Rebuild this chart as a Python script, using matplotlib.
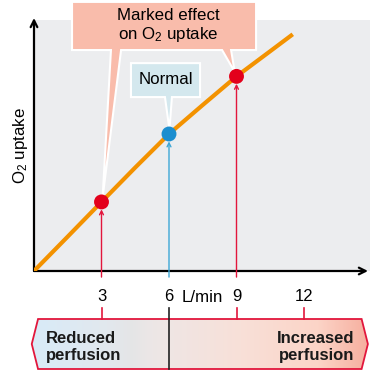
"""
O2 uptake vs. perfusion (cardiac output) with reduced / increased perfusion banner.
"""
import matplotlib
matplotlib.use("Agg")
import matplotlib.pyplot as plt
import numpy as np
from matplotlib.colors import LinearSegmentedColormap
from matplotlib.patches import Polygon

plt.rcParams["font.family"] = ["Liberation Sans", "DejaVu Sans"]
plt.rcParams["mathtext.fontset"] = "custom"
plt.rcParams["mathtext.rm"] = "Liberation Sans"
plt.rcParams["mathtext.default"] = "regular"

# curve (flow in L/min, uptake in arbitrary units)
flow = [0, 1.5, 3, 4.5, 6, 7.5, 9, 10.5, 11.5]
uptake = [0, 1.53, 3.07, 4.6, 6.09, 7.38, 8.65, 9.77, 10.52]

# highlighted operating points
point_flow = [3, 6, 9]
point_uptake = [3.07, 6.09, 8.65]
point_colors = ["#e3001b", "#1b8ecf", "#e3001b"]
line_colors = ["#e2163c", "#3ea7d6", "#e2163c"]

tick_values = [3, 6, 9, 12]
tick_labels = ["3", "6", "9", "12"]

ORANGE = "#f39200"
SALMON = "#f9bcab"
PALE_BLUE = "#d4e8ee"
RED = "#e2163c"

W, H = 375, 374
PX = 22.5  # pixels per data unit
X0, Y0 = 34, 271  # origin in pixels (from top-left)


def main():
    fig = plt.figure(figsize=(W / 100, H / 100), dpi=100)
    ax = fig.add_axes([X0 / W, (H - Y0) / H, 336 / W, 251 / H])
    ax.set_xlim(0, 336 / PX)
    ax.set_ylim(0, 251 / PX)
    ax.set_facecolor("#ecedef")
    for s in ax.spines.values():
        s.set_visible(False)
    ax.set_yticks([])
    ax.set_xticks(tick_values)
    ax.set_xticklabels(tick_labels, fontsize=12)
    ax.tick_params(axis="x", length=0, pad=13)

    # axis arrows
    ax.annotate("", xy=(334 / PX, 0), xytext=(0, 0), annotation_clip=False,
                arrowprops=dict(arrowstyle="->", color="black", lw=1.6,
                                shrinkA=0, shrinkB=0, mutation_scale=12))
    ax.annotate("", xy=(0, 253 / PX), xytext=(0, 0), annotation_clip=False,
                arrowprops=dict(arrowstyle="->", color="black", lw=1.6,
                                shrinkA=0, shrinkB=0, mutation_scale=12))

    ax.plot(flow, uptake, color=ORANGE, lw=3.0, solid_capstyle="butt", zorder=3)

    # vertical arrows from the axis up to each point
    for x, y, c in zip(point_flow, point_uptake, line_colors):
        ax.annotate("", xy=(x, y - 0.33), xytext=(x, -0.27), annotation_clip=False,
                    arrowprops=dict(arrowstyle="->", color=c, lw=1.0,
                                    shrinkA=0, shrinkB=0, mutation_scale=7),
                    zorder=4)
    ax.scatter(point_flow, point_uptake, s=115, c=point_colors, zorder=6,
               edgecolors="none")

    # callout: marked effect
    top, bot = 11.96, 9.82
    verts = [(1.69, top), (9.87, top), (9.87, bot), (8.76, bot),
             (point_flow[2] - 0.08, point_uptake[2] + 0.2), (8.36, bot),
             (3.87, bot), (point_flow[0] + 0.05, point_uptake[0] + 0.2),
             (3.42, bot), (1.69, bot)]
    ax.add_patch(Polygon(verts, closed=True, facecolor=SALMON, edgecolor="white",
                         lw=1.5, clip_on=False, zorder=5))
    ax.text(5.98, 10.88, "Marked effect\non O$_2$ uptake", ha="center", va="center",
            fontsize=12.2, linespacing=1.1, zorder=7)

    # callout: normal
    top, bot = 9.24, 7.73
    verts = [(4.31, top), (7.38, top), (7.38, bot), (6.13, bot),
             (point_flow[1] + 0.02, point_uptake[1] + 0.2), (5.82, bot), (4.31, bot)]
    ax.add_patch(Polygon(verts, closed=True, facecolor=PALE_BLUE, edgecolor="white",
                         lw=1.5, clip_on=False, zorder=5))
    ax.text(5.85, 8.5, "Normal", ha="center", va="center", fontsize=12.2, zorder=7)

    ax.text((202 - X0) / PX, -1.16, "L/min", ha="center", va="center", fontsize=12.2)
    ax.set_ylabel("O$_2$ uptake", fontsize=12.2, labelpad=3)

    # banner below the axis
    bx = fig.add_axes([30 / W, (H - 371) / H, 342 / W, 54 / H])
    xl, xr = (30 - X0) / PX, (372 - X0) / PX
    yb, yt = 2 / 54, 52 / 54
    shape = [(-0.10, 0.5), (0.18, yt), (14.56, yt), (14.84, 0.5), (14.56, yb), (0.18, yb)]
    cmap = LinearSegmentedColormap.from_list("perf", [
        (0.0, "#d8ebf8"), (0.22, "#e2e8ee"), (0.30, "#e5e5e6"), (0.34, "#ebe7e7"),
        (0.42, "#f0e5e3"), (0.62, "#f8e0d8"), (0.85, "#fcd4c7"), (1.0, "#f6ae9e")])
    grad = np.linspace(0, 1, 256).reshape(1, -1)
    im = bx.imshow(grad, cmap=cmap, aspect="auto", extent=[-0.10, 14.84, yb, yt],
                   zorder=1)
    poly = Polygon(shape, closed=True, facecolor="none", edgecolor=RED, lw=1.3,
                   zorder=3)
    bx.add_patch(poly)
    im.set_clip_path(poly)
    bx.set_xlim(xl, xr)
    bx.set_ylim(0, 1)
    bx.axis("off")

    tick_top = (371 - 308) / 54
    for x in tick_values:
        if x == 6:
            bx.plot([x, x], [yb, tick_top], color="#222222", lw=1.2, clip_on=False, zorder=4)
        else:
            bx.plot([x, x], [yt, tick_top], color=RED, lw=1.2, clip_on=False, zorder=4)

    bx.text((46 - 30) / PX + xl, 0.45, "Reduced\nperfusion", ha="left", va="center",
            fontsize=12, fontweight="bold", linespacing=1.15, color="#1a1a1a")
    bx.text((354 - 30) / PX + xl, 0.45, "Increased\nperfusion", ha="right", va="center",
            fontsize=12, fontweight="bold", linespacing=1.15, color="#1a1a1a")

    fig.savefig("out.png", dpi=100)
    plt.close(fig)


if __name__ == "__main__":
    main()
